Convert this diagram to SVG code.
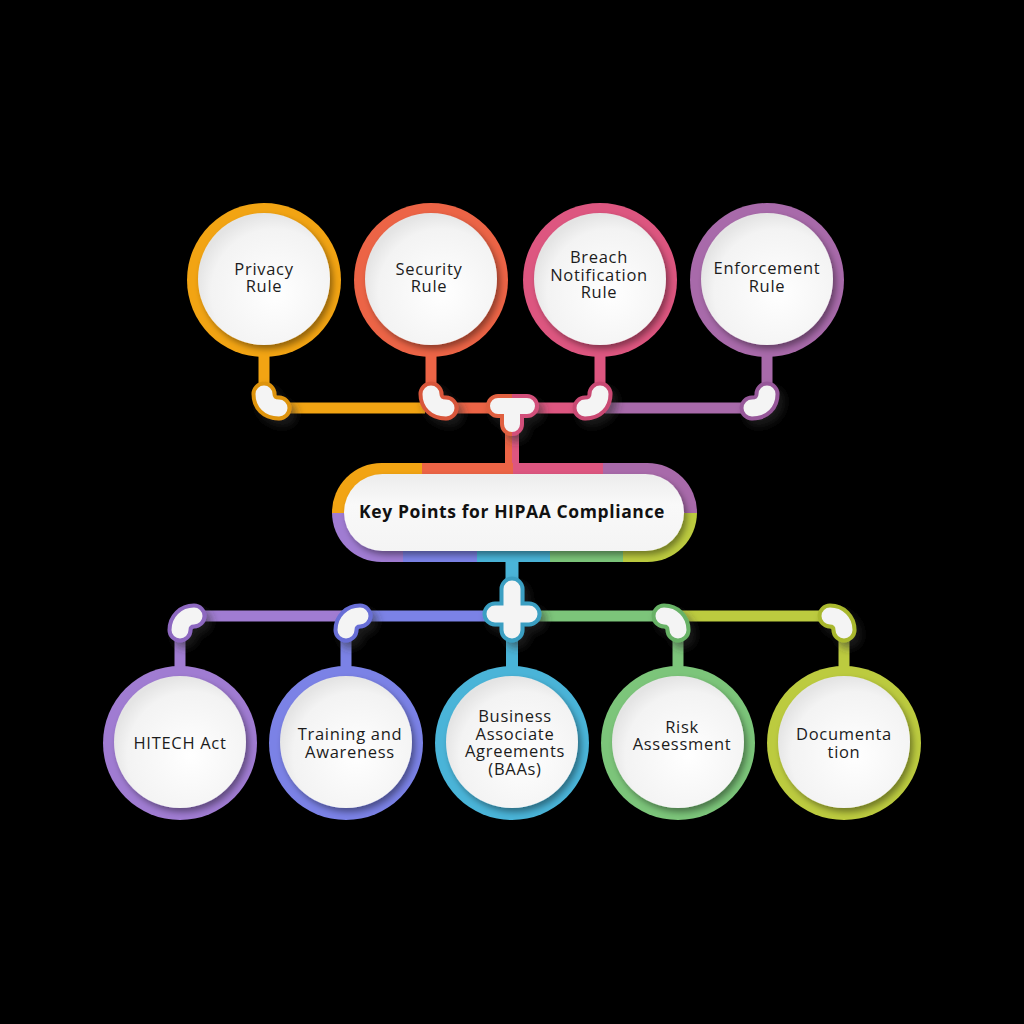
<svg xmlns="http://www.w3.org/2000/svg" width="1024" height="1024" viewBox="0 0 1024 1024">
<defs>
<style>
.lbl{font-family:"Open Sans","Noto Sans","Liberation Sans",sans-serif;font-size:16.5px;letter-spacing:0.7px;fill:#1c1c1c;text-anchor:middle}
.title{font-family:"Open Sans","Noto Sans","Liberation Sans",sans-serif;font-size:17.5px;font-weight:bold;letter-spacing:0.6px;fill:#111;text-anchor:middle}
.inner{fill:url(#wg);filter:url(#sh)}
.ln{fill:none;stroke-width:11}
.eo{fill:none;stroke-width:25;stroke-linecap:round}
.ew{fill:none;stroke:#f4f4f4;stroke-width:17;stroke-linecap:round}
</style>
<radialGradient id="wg" cx="0.58" cy="0.6" r="0.6">
<stop offset="0" stop-color="#ffffff"/>
<stop offset="0.8" stop-color="#f3f3f3"/>
<stop offset="1" stop-color="#e4e4e4"/>
</radialGradient>
<linearGradient id="pg" x1="0" y1="0" x2="0" y2="1">
<stop offset="0" stop-color="#ececec"/>
<stop offset="0.4" stop-color="#f9f9f9"/>
<stop offset="1" stop-color="#f4f4f4"/>
</linearGradient>
<filter id="sh" x="-20%" y="-20%" width="150%" height="150%">
<feDropShadow dx="3" dy="4" stdDeviation="3" flood-color="#000" flood-opacity="0.4"/>
</filter>
<filter id="gs" x="-50%" y="-50%" width="200%" height="200%">
<feDropShadow dx="5" dy="6" stdDeviation="4" flood-color="#333" flood-opacity="0.55"/>
</filter>
<linearGradient id="tg" gradientUnits="userSpaceOnUse" x1="0" y1="0" x2="1024" y2="0">
<stop offset="0.5" stop-color="#E0603F"/>
<stop offset="0.5" stop-color="#D24F7A"/>
</linearGradient>
<linearGradient id="tl" gradientUnits="userSpaceOnUse" x1="0" y1="0" x2="1024" y2="0">
<stop offset="0.5" stop-color="#EC6446"/>
<stop offset="0.5" stop-color="#DD5680"/>
</linearGradient>
<clipPath id="pill">
<rect x="332" y="463" width="365" height="99" rx="49.5"/>
</clipPath>
</defs>
<rect width="1024" height="1024" fill="#000"/>

<g id="connectors">
<line class="ln" x1="280" y1="408" x2="425" y2="408" stroke="#F2A413"/>
<line class="ln" x1="440" y1="408" x2="500" y2="408" stroke="#EC6446"/>
<line class="ln" x1="525" y1="408" x2="590" y2="408" stroke="#DD5680"/>
<line class="ln" x1="605" y1="408" x2="755" y2="408" stroke="#A86AAA"/>
<line class="ln" x1="264" y1="350" x2="264" y2="395" stroke="#F2A413"/>
<line class="ln" x1="431" y1="350" x2="431" y2="395" stroke="#EC6446"/>
<line class="ln" x1="600" y1="350" x2="600" y2="395" stroke="#DD5680"/>
<line class="ln" x1="767" y1="350" x2="767" y2="395" stroke="#A86AAA"/>
<line x1="512" y1="420" x2="512" y2="470" stroke="url(#tl)" stroke-width="14"/>
<line class="ln" x1="195" y1="616" x2="345" y2="616" stroke="#A07CD2"/>
<line class="ln" x1="360" y1="616" x2="500" y2="616" stroke="#7B82E6"/>
<line class="ln" x1="525" y1="616" x2="665" y2="616" stroke="#7CC57A"/>
<line class="ln" x1="680" y1="616" x2="830" y2="616" stroke="#BCCB3F"/>
<line x1="512" y1="555" x2="512" y2="600" stroke="#4AB4D8" stroke-width="13"/>
<line class="ln" x1="180" y1="630" x2="180" y2="675" stroke="#A07CD2"/>
<line class="ln" x1="346" y1="630" x2="346" y2="675" stroke="#7B82E6"/>
<line x1="512" y1="630" x2="512" y2="675" stroke="#4AB4D8" stroke-width="12"/>
<line class="ln" x1="678" y1="630" x2="678" y2="675" stroke="#7CC57A"/>
<line class="ln" x1="844" y1="630" x2="844" y2="675" stroke="#BCCB3F"/>

<g filter="url(#gs)">
<path class="eo" stroke="#DE9410" d="M264,394 C264,402 269,408 279,408"/>
<path class="ew" d="M264,394 C264,402 269,408 279,408"/>
<path class="eo" stroke="#D8573B" d="M431,394 C431,402 436,408 446,408"/>
<path class="ew" d="M431,394 C431,402 436,408 446,408"/>
<path class="eo" stroke="#C94A73" d="M600,394 C600,402 595,408 585,408"/>
<path class="ew" d="M600,394 C600,402 595,408 585,408"/>
<path class="eo" stroke="#97599A" d="M767,394 C767,402 762,408 752,408"/>
<path class="ew" d="M767,394 C767,402 762,408 752,408"/>
<path fill="none" stroke="url(#tg)" stroke-width="24" stroke-linecap="round" stroke-linejoin="round" d="M498,406 L527,406 M512,406 L512,424"/>
<path fill="none" stroke="#f4f4f4" stroke-width="16" stroke-linecap="round" stroke-linejoin="round" d="M498,406 L527,406 M512,406 L512,424"/>
<path class="eo" stroke="#8D68C0" d="M194,616 C186,616 180,622 180,630"/>
<path class="ew" d="M194,616 C186,616 180,622 180,630"/>
<path class="eo" stroke="#676ED6" d="M360,616 C352,616 346,622 346,630"/>
<path class="ew" d="M360,616 C352,616 346,622 346,630"/>
<path class="eo" stroke="#67B266" d="M664,616 C672,616 678,622 678,630"/>
<path class="ew" d="M664,616 C672,616 678,622 678,630"/>
<path class="eo" stroke="#A9B82F" d="M830,616 C838,616 844,622 844,630"/>
<path class="ew" d="M830,616 C838,616 844,622 844,630"/>
<path fill="none" stroke="#3A9FC2" stroke-width="25" stroke-linecap="round" d="M512,589 L512,630 M495,614 L529,614"/>
<path fill="none" stroke="#f4f4f4" stroke-width="17" stroke-linecap="round" d="M512,589 L512,630 M495,614 L529,614"/>
</g>
</g>

<g id="center">
<g clip-path="url(#pill)">
<rect x="330" y="460" width="92" height="53" fill="#F2A413"/>
<rect x="422" y="460" width="91" height="53" fill="#EC6446"/>
<rect x="513" y="460" width="90" height="53" fill="#DD5680"/>
<rect x="603" y="460" width="96" height="53" fill="#A86AAA"/>
<rect x="330" y="513" width="73" height="52" fill="#A07CD2"/>
<rect x="403" y="513" width="74" height="52" fill="#7B82E6"/>
<rect x="477" y="513" width="73" height="52" fill="#4AB4D8"/>
<rect x="550" y="513" width="73" height="52" fill="#7CC57A"/>
<rect x="623" y="513" width="76" height="52" fill="#BCCB3F"/>
</g>
<rect x="344" y="474" width="340" height="77" rx="38.5" fill="url(#pg)" filter="url(#sh)"/>
<text class="title" x="512" y="518">Key Points for HIPAA Compliance</text>
</g>

<g id="privacy">
<circle cx="264" cy="280" r="77" fill="#F2A413"/>
<circle class="inner" cx="264" cy="279" r="66"/>
<text class="lbl" x="264" y="275">Privacy</text>
<text class="lbl" x="264" y="292">Rule</text>
</g>
<g id="security">
<circle cx="431" cy="280" r="77" fill="#EC6446"/>
<circle class="inner" cx="431" cy="279" r="66"/>
<text class="lbl" x="429" y="275">Security</text>
<text class="lbl" x="429" y="292">Rule</text>
</g>
<g id="breach">
<circle cx="600" cy="280" r="77" fill="#DD5680"/>
<circle class="inner" cx="600" cy="279" r="66"/>
<text class="lbl" x="599" y="263">Breach</text>
<text class="lbl" x="599" y="281">Notification</text>
<text class="lbl" x="599" y="298">Rule</text>
</g>
<g id="enforcement">
<circle cx="767" cy="280" r="77" fill="#A86AAA"/>
<circle class="inner" cx="767" cy="279" r="66"/>
<text class="lbl" x="767" y="274">Enforcement</text>
<text class="lbl" x="767" y="292">Rule</text>
</g>

<g id="hitech">
<circle cx="180" cy="743" r="77" fill="#A07CD2"/>
<circle class="inner" cx="180" cy="742" r="66"/>
<text class="lbl" x="180" y="749">HITECH Act</text>
</g>
<g id="training">
<circle cx="346" cy="743" r="77" fill="#7B82E6"/>
<circle class="inner" cx="346" cy="742" r="66"/>
<text class="lbl" x="350" y="740">Training and</text>
<text class="lbl" x="350" y="758">Awareness</text>
</g>
<g id="business">
<circle cx="512" cy="743" r="77" fill="#4AB4D8"/>
<circle class="inner" cx="512" cy="742" r="66"/>
<text class="lbl" x="515" y="722">Business</text>
<text class="lbl" x="515" y="740">Associate</text>
<text class="lbl" x="515" y="757">Agreements</text>
<text class="lbl" x="515" y="775">(BAAs)</text>
</g>
<g id="risk">
<circle cx="678" cy="743" r="77" fill="#7CC57A"/>
<circle class="inner" cx="678" cy="742" r="66"/>
<text class="lbl" x="682" y="733">Risk</text>
<text class="lbl" x="682" y="750">Assessment</text>
</g>
<g id="documentation">
<circle cx="844" cy="743" r="77" fill="#BCCB3F"/>
<circle class="inner" cx="844" cy="742" r="66"/>
<text class="lbl" x="844" y="740">Documenta</text>
<text class="lbl" x="844" y="758">tion</text>
</g>
</svg>
